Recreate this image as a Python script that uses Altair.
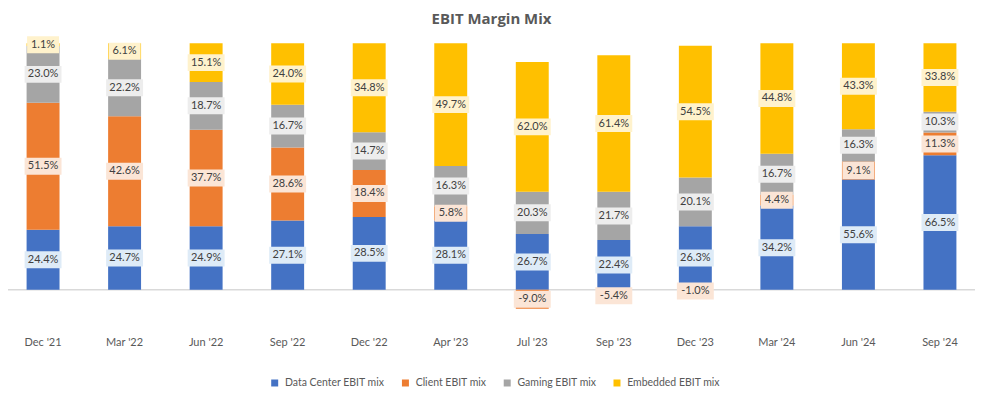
import altair as alt
import pandas as pd

quarters = ["Dec '21", "Mar '22", "Jun '22", "Sep '22", "Dec '22", "Apr '23",
            "Jul '23", "Sep '23", "Dec '23", "Mar '24", "Jun '24", "Sep '24"]
series = ["Data Center EBIT mix", "Client EBIT mix", "Gaming EBIT mix", "Embedded EBIT mix"]

data_center = [24.4, 24.7, 24.9, 27.1, 28.5, 28.1, 26.7, 22.4, 26.3, 34.2, 55.6, 66.5]
client = [51.5, 42.6, 37.7, 28.6, 18.4, 5.8, -9.0, -5.4, -1.0, 4.4, 9.1, 11.3]
gaming = [23.0, 22.2, 18.7, 16.7, 14.7, 16.3, 20.3, 21.7, 20.1, 16.7, 16.3, 10.3]
embedded = [1.1, 6.1, 15.1, 24.0, 34.8, 49.7, 62.0, 61.4, 54.5, 44.8, 43.3, 33.8]

colors = ["#4472C4", "#ED7D31", "#A5A5A5", "#FFC000"]
label_bg = ["#DEEBF7", "#FBE5D6", "#EDEDED", "#FFF2CC"]

rows = []
for i, (s, vals) in enumerate(zip(series, [data_center, client, gaming, embedded])):
    for q, v in zip(quarters, vals):
        lab = f"{v:.1f}%"
        rows.append({"quarter": q, "series": s, "order": i, "value": v,
                     "label": lab, "nchar": len(lab)})
df = pd.DataFrame(rows)

W, H = 969, 290
yscale = alt.Scale(domain=[-0.174, 1.0], nice=False, zero=False)
xenc = alt.X("quarter:N", sort=quarters,
             scale=alt.Scale(paddingInner=0.596, paddingOuter=0.228),
             axis=alt.Axis(title=None, labelAngle=0, domain=False, ticks=False,
                           labelFont="Lato", labelFontSize=11, labelColor="#595959",
                           labelPadding=4))

base = (alt.Chart(df)
        .transform_calculate(absval="abs(datum.value)")
        .transform_joinaggregate(total="sum(absval)", groupby=["quarter"])
        .transform_calculate(norm="datum.value / datum.total")
        .transform_stack(stack="norm", groupby=["quarter"],
                         sort=[alt.SortField("order")], as_=["y0", "y1"])
        .transform_calculate(mid="(datum.y0 + datum.y1) / 2"))

zero = alt.Chart(pd.DataFrame({"z": [0]})).mark_rule(color="#D9D9D9", strokeWidth=1.5).encode(
    y=alt.Y("z:Q", scale=yscale, axis=None))

bars = base.mark_bar().encode(
    x=xenc,
    y=alt.Y("y0:Q", scale=yscale, axis=None),
    y2="y1:Q",
    color=alt.Color("series:N", scale=alt.Scale(domain=series, range=colors),
                    legend=alt.Legend(orient="none", legendX=262, legendY=335,
                                      direction="horizontal", title=None,
                                      symbolType="square", symbolSize=49,
                                      symbolStrokeWidth=0,
                                      labelFont="Lato", labelFontSize=10.5,
                                      labelColor="#595959", columnPadding=15,
                                      labelOffset=5)),
)

def boxes(cond, width):
    hh = 8.5 / (width / 2)
    path = f"M-1,-{hh:.4f}H1V{hh:.4f}H-1Z"
    return base.transform_filter(cond).mark_point(filled=True, opacity=1, shape=path,
                                                  strokeWidth=0).encode(
        x=xenc,
        y=alt.Y("mid:Q", scale=yscale, axis=None),
        fill=alt.Fill("series:N", scale=alt.Scale(domain=series, range=label_bg), legend=None),
        size=alt.value(width * width),
    )

box4 = boxes("datum.nchar <= 4", 32)
box5 = boxes("datum.nchar > 4", 37)

texts = base.mark_text(font="Lato", fontSize=11, color="#404040").encode(
    x=xenc,
    y=alt.Y("mid:Q", scale=yscale, axis=None),
    text="label:N",
)

chart = (alt.layer(zero, bars, box4, box5, texts)
         .properties(width=W, height=H,
                     title=alt.Title("EBIT Margin Mix", font="Open Sans", fontSize=15,
                                     fontWeight="bold", color="#595959", anchor="middle",
                                     offset=9),
                     autosize=alt.AutoSizeParams(type="none"),
                     padding={"top": 35, "left": 0, "right": 0, "bottom": 55})
         .configure_view(stroke=None))

chart.save("out.html", embed_options={"renderer": "svg", "actions": False})
